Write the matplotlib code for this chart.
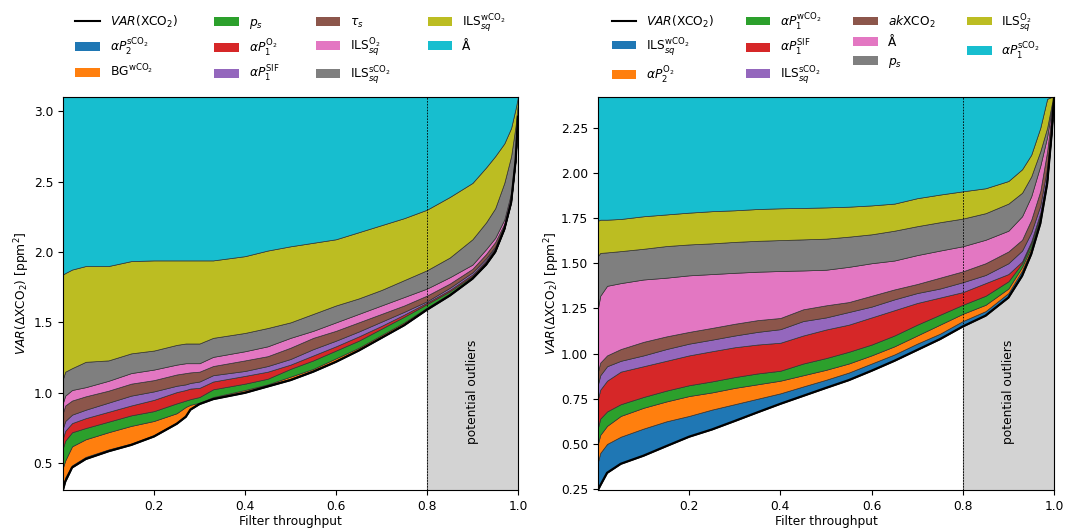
import numpy as np
import matplotlib
matplotlib.use("Agg")
from matplotlib import pyplot as plt
from matplotlib.lines import Line2D
from matplotlib.patches import Patch

plt.rcParams['font.size'] = 8.8

# ---- left panel: cumulative variance boundaries ----
x_left = [0, .005, .02, .05, .1, .15, .2, .25, .27, .28, .3, .33, .4, .45, .5, .55,
          .6, .65, .7, .75, .8, .85, .9, .93, .95, .97, .985, .995, 1.0]
var_left = [.31, .37, .47, .53, .585, .63, .69, .78, .83, .88, .92, .955, 1.0, 1.045, 1.09, 1.15,
            1.22, 1.30, 1.39, 1.48, 1.59, 1.69, 1.81, 1.91, 2.00, 2.16, 2.35, 2.65, 2.96]
top_left = {
    'blue':   [.33, .40, .485, .545, .598, .64, .70, .79, .84, .89, .93, .965, 1.01, 1.055, 1.10, 1.16,
               1.228, 1.307, 1.397, 1.487, 1.596, 1.696, 1.815, 1.915, 2.005, 2.165, 2.355, 2.655, 2.96],
    'orange': [.47, .52, .62, .67, .72, .765, .80, .855, .90, .915, .93, .97, 1.02, 1.06, 1.115, 1.17,
               1.245, 1.32, 1.41, 1.50, 1.605, 1.705, 1.822, 1.92, 2.01, 2.17, 2.36, 2.66, 2.96],
    'green':  [.61, .66, .72, .75, .795, .84, .87, .925, .945, .955, .97, 1.025, 1.065, 1.10, 1.17, 1.23,
               1.30, 1.37, 1.455, 1.54, 1.63, 1.72, 1.83, 1.93, 2.02, 2.175, 2.365, 2.665, 2.96],
    'red':    [.68, .73, .785, .82, .865, .91, .95, 1.005, 1.02, 1.03, 1.035, 1.08, 1.12, 1.15, 1.20, 1.265,
               1.33, 1.40, 1.475, 1.555, 1.64, 1.73, 1.84, 1.94, 2.03, 2.18, 2.37, 2.67, 2.96],
    'purple': [.75, .80, .845, .88, .93, .98, 1.01, 1.05, 1.06, 1.07, 1.08, 1.125, 1.155, 1.19, 1.24, 1.31,
               1.37, 1.435, 1.505, 1.575, 1.65, 1.745, 1.855, 1.955, 2.04, 2.19, 2.38, 2.68, 2.96],
    'brown':  [.86, .91, .945, .975, 1.015, 1.065, 1.09, 1.13, 1.14, 1.145, 1.15, 1.19, 1.23, 1.26, 1.32, 1.39,
               1.44, 1.50, 1.56, 1.62, 1.69, 1.775, 1.88, 1.985, 2.07, 2.20, 2.39, 2.69, 2.97],
    'pink':   [.93, .98, 1.02, 1.04, 1.085, 1.14, 1.165, 1.20, 1.21, 1.21, 1.21, 1.255, 1.295, 1.33, 1.39, 1.44,
               1.50, 1.56, 1.62, 1.68, 1.74, 1.82, 1.91, 2.02, 2.10, 2.23, 2.42, 2.72, 2.98],
    'gray':   [1.10, 1.15, 1.175, 1.22, 1.23, 1.28, 1.30, 1.34, 1.35, 1.35, 1.35, 1.39, 1.425, 1.46, 1.50, 1.56,
               1.62, 1.67, 1.73, 1.80, 1.87, 1.96, 2.09, 2.21, 2.31, 2.49, 2.68, 2.90, 3.06],
    'olive':  [1.84, 1.85, 1.875, 1.90, 1.90, 1.935, 1.94, 1.94, 1.94, 1.94, 1.94, 1.94, 1.97, 2.01, 2.04, 2.065,
               2.09, 2.14, 2.19, 2.24, 2.30, 2.39, 2.49, 2.60, 2.68, 2.77, 2.88, 3.02, 3.10],
}
labels_left = [r'$\alpha P_2^{\mathrm{sCO_2}}$', r'$\mathrm{BG}^{\mathrm{wCO_2}}$', r'$p_s$',
               r'$\alpha P_1^{\mathrm{O_2}}$', r'$\alpha P_1^{\mathrm{SIF}}$', r'$\tau_s$',
               r'$\mathrm{ILS}_{sq}^{\mathrm{O_2}}$', r'$\mathrm{ILS}_{sq}^{\mathrm{sCO_2}}$',
               r'$\mathrm{ILS}_{sq}^{\mathrm{wCO_2}}$', 'Å']
ylim_left = (0.31, 3.10)

# ---- right panel ----
x_right = [0, .005, .02, .05, .1, .15, .2, .25, .3, .35, .4, .45, .5, .55,
           .6, .65, .7, .75, .8, .85, .9, .93, .95, .97, .985, .995, 1.0]
var_right = [.245, .27, .34, .39, .435, .488, .54, .58, .627, .675, .722, .766, .81, .853,
             .905, .96, 1.02, 1.08, 1.15, 1.21, 1.31, 1.43, 1.55, 1.72, 1.94, 2.22, 2.42]
top_right = {
    'blue':   [.40, .45, .50, .54, .585, .625, .655, .69, .72, .75, .78, .818, .855, .895,
               .945, .995, 1.055, 1.11, 1.18, 1.235, 1.335, 1.46, 1.575, 1.74, 1.955, 2.23, 2.42],
    'orange': [.50, .55, .60, .655, .70, .735, .765, .785, .81, .83, .85, .88, .91, .945,
               .99, 1.04, 1.10, 1.16, 1.22, 1.27, 1.36, 1.48, 1.59, 1.755, 1.965, 2.24, 2.42],
    'green':  [.59, .64, .68, .72, .76, .795, .825, .846, .87, .89, .905, .945, .975, 1.01,
               1.05, 1.10, 1.16, 1.215, 1.27, 1.32, 1.40, 1.50, 1.61, 1.77, 1.975, 2.25, 2.42],
    'red':    [.75, .80, .85, .90, .93, .96, .99, 1.013, 1.035, 1.05, 1.06, 1.10, 1.133, 1.16,
               1.20, 1.24, 1.28, 1.31, 1.34, 1.39, 1.44, 1.51, 1.62, 1.78, 1.98, 2.25, 2.42],
    'purple': [.83, .88, .93, .96, .99, 1.025, 1.055, 1.077, 1.10, 1.12, 1.135, 1.18, 1.20, 1.23,
               1.26, 1.30, 1.335, 1.36, 1.395, 1.435, 1.50, 1.57, 1.67, 1.82, 2.03, 2.28, 2.42],
    'brown':  [.90, .95, .99, 1.025, 1.065, 1.095, 1.12, 1.142, 1.165, 1.185, 1.197, 1.245, 1.267, 1.285,
               1.32, 1.355, 1.385, 1.42, 1.455, 1.50, 1.565, 1.63, 1.74, 1.90, 2.12, 2.33, 2.42],
    'pink':   [1.25, 1.32, 1.375, 1.39, 1.41, 1.42, 1.433, 1.44, 1.447, 1.453, 1.457, 1.46, 1.464, 1.48,
               1.50, 1.515, 1.545, 1.57, 1.594, 1.63, 1.68, 1.76, 1.87, 2.04, 2.20, 2.36, 2.42],
    'gray':   [1.54, 1.557, 1.56, 1.567, 1.58, 1.595, 1.604, 1.61, 1.618, 1.624, 1.628, 1.632, 1.636, 1.647,
               1.66, 1.68, 1.705, 1.727, 1.747, 1.777, 1.83, 1.89, 1.98, 2.12, 2.25, 2.38, 2.42],
    'olive':  [1.735, 1.741, 1.741, 1.745, 1.76, 1.77, 1.78, 1.788, 1.793, 1.80, 1.804, 1.806, 1.809, 1.813,
               1.82, 1.83, 1.86, 1.88, 1.898, 1.915, 1.955, 2.02, 2.10, 2.25, 2.41, 2.42, 2.42],
}
labels_right = [r'$\mathrm{ILS}_{sq}^{\mathrm{wCO_2}}$', r'$\alpha P_2^{\mathrm{O_2}}$',
                r'$\alpha P_1^{\mathrm{wCO_2}}$', r'$\alpha P_1^{\mathrm{SIF}}$',
                r'$\mathrm{ILS}_{sq}^{\mathrm{sCO_2}}$', r'$ak\mathrm{XCO_2}$', 'Å', r'$p_s$',
                r'$\mathrm{ILS}_{sq}^{\mathrm{O_2}}$', r'$\alpha P_1^{\mathrm{sCO_2}}$']
ylim_right = (0.245, 2.42)

colors = ['tab:blue', 'tab:orange', 'tab:green', 'tab:red', 'tab:purple',
          'tab:brown', 'tab:pink', 'tab:gray', 'tab:olive', 'tab:cyan']
outlier_start = 0.8


def draw_panel(ax, x, var, tops, labels, ylim, ypad, colsp):
    x = np.array(x)
    lower = np.array(var)
    ax.axvspan(outlier_start, 1.0, facecolor='lightgray', edgecolor='none', zorder=0)
    bounds = [np.array(v) for v in tops.values()]
    bounds.append(np.full(len(x), ylim[1]))
    handles = [Line2D([], [], color='k', lw=1.5, label=r'$VAR(\mathrm{XCO_2})$')]
    for i in range(len(bounds)):
        ax.fill_between(x, lower, bounds[i], facecolor=colors[i], edgecolor='#333333',
                        linewidth=0.5, zorder=2)
        handles.append(Patch(facecolor=colors[i], label=labels[i]))
        lower = bounds[i]
    ax.plot(x, var, color='k', lw=1.6, zorder=3)
    ax.axvline(outlier_start, color='k', lw=0.6, ls=(0, (2, 1.5)), zorder=4)
    ax.axvline(outlier_start, color='gray', lw=0.8, zorder=1)
    ax.text(0.9, 0.25, 'potential outliers', rotation=90, ha='center', va='center',
            transform=ax.get_xaxis_transform())
    ax.set_xlim(0, 1.0)
    ax.set_ylim(*ylim)
    ax.set_xticks([0.2, 0.4, 0.6, 0.8, 1.0])
    ax.set_xlabel('Filter throughput', labelpad=2)
    ax.set_ylabel(r'$VAR(\Delta\mathrm{XCO}_2)$ [ppm$^2$]', labelpad=ypad)
    ax.legend(handles=handles, ncol=4, loc='lower center', bbox_to_anchor=(0.5, 1.0),
              frameon=False, columnspacing=colsp)


fig = plt.figure(figsize=(10.67, 5.30), dpi=100)
ax1 = fig.add_axes([0.059, 0.0755, 0.4264, 0.7415])
ax2 = fig.add_axes([0.5604, 0.0755, 0.4274, 0.7415])

draw_panel(ax1, x_left, var_left, top_left, labels_left, ylim_left, 1.5, 3.0)
ax1.set_yticks([0.5, 1.0, 1.5, 2.0, 2.5, 3.0])
draw_panel(ax2, x_right, var_right, top_right, labels_right, ylim_right, -0.5, 2.6)
ax2.set_yticks([0.25, 0.5, 0.75, 1.0, 1.25, 1.5, 1.75, 2.0, 2.25])
ax2.yaxis.set_major_formatter(matplotlib.ticker.FormatStrFormatter('%.2f'))

fig.savefig('out.png', dpi=100)
